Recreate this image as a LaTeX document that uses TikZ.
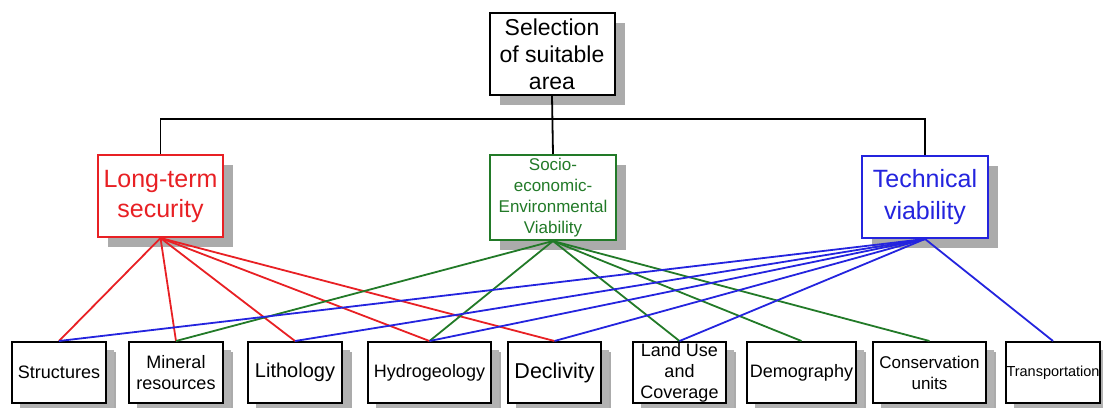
\documentclass[tikz,border=0pt]{standalone}
\usepackage{fontspec}
\setmainfont{Liberation Sans}
\usetikzlibrary{positioning,shadows}
\definecolor{ltsred}{RGB}{232,32,36}
\definecolor{sevgreen}{RGB}{34,122,40}
\definecolor{tvblue}{RGB}{36,36,222}

\begin{document}
\begin{tikzpicture}
  [x=1pt,y=-1pt,
   box/.style={rectangle,draw=black,line width=2pt,fill=white,inner sep=0pt,align=center,
     drop shadow={shadow xshift=10pt,shadow yshift=-10pt,fill=black!33,opacity=1}},
   crit/.style={box,minimum width=125pt,minimum height=82pt},
   leaf/.style={box,minimum height=61pt,font=\fontsize{18}{21}\selectfont,
     drop shadow={shadow xshift=8pt,shadow yshift=-8pt,fill=black!30,opacity=1}},
   link/.style={line width=1.8pt}]
  \useasboundingbox (0,0) rectangle (1103,407);

  % goal and the three criteria
  \node[crit,font=\fontsize{23}{27}\selectfont] (goal) at (552,54) {Selection\\of suitable\\area};
  \node[crit,draw=ltsred,text=ltsred,font=\fontsize{25}{30}\selectfont] (lts) at (160.5,196) {Long-term\\security};
  \node[crit,draw=sevgreen,text=sevgreen,minimum width=126pt,minimum height=85pt,
        font=\fontsize{17}{21}\selectfont] (sev) at (553,197.5) {Socio-\\economic-\\Environmental\\Viability};
  \node[crit,draw=tvblue,text=tvblue,minimum width=126pt,font=\fontsize{25}{32}\selectfont] (tv) at (925,197) {Technical\\viability};

  % factors
  \node[leaf,minimum width=94pt] (s1) at (59,372.5) {Structures};
  \node[leaf,minimum width=94pt] (s2) at (176,372.5) {Mineral\\resources};
  \node[leaf,minimum width=94pt,font=\fontsize{20}{24}\selectfont] (s3) at (295,372.5) {Lithology};
  \node[leaf,minimum width=123pt] (s4) at (429.5,372.5) {Hydrogeology};
  \node[leaf,minimum width=93pt,font=\fontsize{21.5}{25}\selectfont] (s5) at (554.5,372.5) {Declivity};
  \node[leaf,minimum width=93pt] (s6) at (679.5,372.5) {Land Use\\and\\Coverage};
  \node[leaf,minimum width=109pt] (s7) at (801.5,372.5) {Demography};
  \node[leaf,minimum width=113pt,font=\fontsize{17}{21}\selectfont] (s8) at (929.5,372.5) {Conservation\\units};
  \node[leaf,minimum width=94pt,font=\fontsize{14.5}{18}\selectfont] (s9) at (1053,372.5) {Transportation};

  \draw[link] (goal.south) -- (sev.north);
  \draw[link] (lts.north) -- ++(0,-35) -| (tv.north);

  \draw[link,ltsred] (lts.south) -- (s1.north);
  \draw[link,ltsred] (lts.south) -- (s2.north);
  \draw[link,ltsred] (lts.south) -- (s3.north);
  \draw[link,ltsred] (lts.south) -- (s4.north);
  \draw[link,ltsred] (lts.south) -- (s5.north);

  \draw[link,sevgreen] (sev.south) -- (s2.north);
  \draw[link,sevgreen] (sev.south) -- (s4.north);
  \draw[link,sevgreen] (sev.south) -- (s6.north);
  \draw[link,sevgreen] (sev.south) -- (s7.north);
  \draw[link,sevgreen] (sev.south) -- (s8.north);

  \draw[link,tvblue] (tv.south) -- (s1.north);
  \draw[link,tvblue] (tv.south) -- (s3.north);
  \draw[link,tvblue] (tv.south) -- (s4.north);
  \draw[link,tvblue] (tv.south) -- (s5.north);
  \draw[link,tvblue] (tv.south) -- (s6.north);
  \draw[link,tvblue] (tv.south) -- (s9.north);
\end{tikzpicture}
\end{document}
